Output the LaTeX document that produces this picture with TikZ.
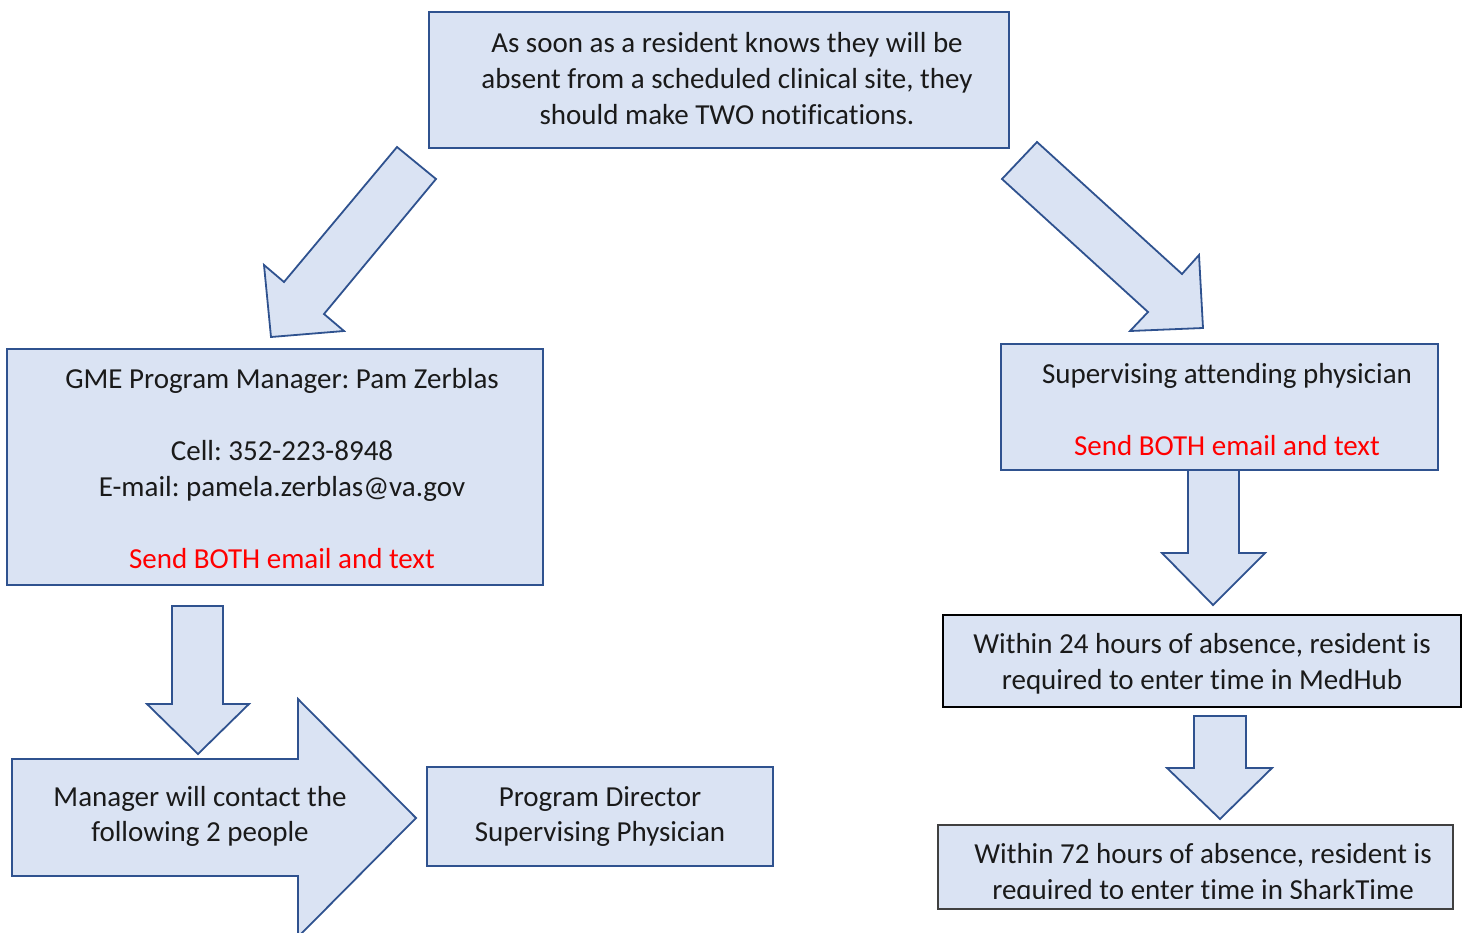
\documentclass[tikz,border=0pt]{standalone}
\usepackage{fontspec}
\setmainfont{Carlito}[Ligatures={NoCommon}]
\definecolor{bfill}{HTML}{DAE3F3}
\definecolor{bline}{HTML}{2F528F}
\definecolor{gline}{HTML}{404040}
\definecolor{redtxt}{HTML}{FF0000}
\definecolor{txtc}{HTML}{1A1A1A}
\begin{document}
\frenchspacing
\begin{tikzpicture}[x=1pt,y=-1pt,
  box/.style={draw=bline, fill=bfill, line width=1.8pt, inner sep=0pt},
  txt/.style={align=center, inner sep=0pt, text=txtc, font=\fontsize{29}{36}\selectfont},
  blk/.style={draw=bline, fill=bfill, line width=1.8pt, line join=miter}]
\useasboundingbox (0,0) rectangle (1470,932);

% top box
\node[box, minimum width=580pt, minimum height=136pt] (top) at (719,80) {};
\node[txt] (topt) at (727,79) {As soon as a resident knows they will be\\absent from a scheduled clinical site, they\\should make TWO notifications.};

% diagonal arrows
\draw[blk] (397,147) -- (436,179) -- (324,314) -- (344,331) -- (271,337) -- (264,265) -- (284,282) -- cycle;
\draw[blk] (1037,142) -- (1182,274) -- (1199,255) -- (1203,328) -- (1130,331) -- (1148,312) -- (1002,179) -- cycle;

% GME box
\node[box, minimum width=536pt, minimum height=236pt] (gme) at (275,467) {};
\node[txt] (gmet) at (282,469) {GME Program Manager: Pam Zerblas\\[36pt]Cell: 352-223-8948\\E-mail: pamela.zerblas@va.gov\\[36pt]\textcolor{redtxt}{Send BOTH email and text}};

% supervising box
\node[box, minimum width=437pt, minimum height=126pt] (sup) at (1219.5,407) {};
\node[txt] (supt) at (1227,410) {Supervising attending physician\\[36pt]\textcolor{redtxt}{Send BOTH email and text}};

% down arrow left
\draw[blk] (172,606) -- (223,606) -- (223,704) -- (249,704) -- (198,754) -- (147,704) -- (172,704) -- cycle;

% big right arrow
\draw[blk] (12,759) -- (298,759) -- (298,699) -- (416,818) -- (298,937) -- (298,876) -- (12,876) -- cycle;
\node[txt, font=\fontsize{29}{35}\selectfont] (mgr) at (200,816) {Manager will contact the\\following 2 people};

% program director box
\node[box, minimum width=346pt, minimum height=99pt] (pd) at (600,816.5) {};
\node[txt, font=\fontsize{29}{35}\selectfont] (pdt) at (600,817) {Program Director\\Supervising Physician};

% box 24
\node[box, draw=black, line width=2.2pt, minimum width=518pt, minimum height=92pt] (b24) at (1202,661) {};
\node[txt] (b24t) at (1202,664) {Within 24 hours of absence, resident is\\required to enter time in MedHub};

% down arrow right 1
\draw[blk] (1188,470) -- (1239,470) -- (1239,553) -- (1265,553) -- (1213,605) -- (1162,553) -- (1188,553) -- cycle;

% box 72
\node[box, draw=gline, minimum width=515pt, minimum height=84pt] (b72) at (1195.5,867) {};
\begin{scope}
\clip (938,826) rectangle (1453,898.5);
\node[txt] (b72t) at (1203,874) {Within 72 hours of absence, resident is\\required to enter time in SharkTime};
\end{scope}

% down arrow right 2
\draw[blk] (1194,716) -- (1246,716) -- (1246,768) -- (1272,768) -- (1220,819) -- (1167,768) -- (1194,768) -- cycle;
\end{tikzpicture}
\end{document}
